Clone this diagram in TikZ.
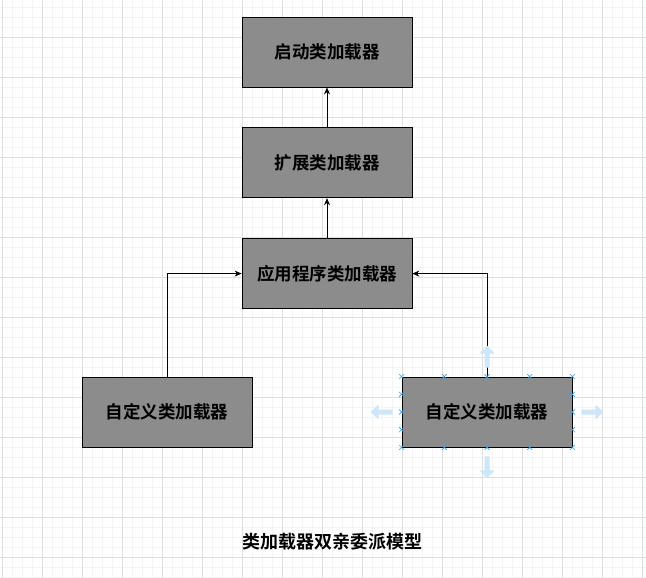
\documentclass[tikz,border=0pt]{standalone}
\usepackage{fontspec}
\newfontfamily\cjk{Noto Sans CJK SC}[BoldFont={Noto Sans CJK SC Bold}]
\usepackage{xcolor}
\usetikzlibrary{arrows.meta, positioning, calc}

\definecolor{boxgray}{RGB}{140,140,140}
\definecolor{gridminor}{RGB}{244,244,244}
\definecolor{gridmajor}{RGB}{222,222,222}
\definecolor{handleblue}{RGB}{60,160,235}
\definecolor{hintblue}{RGB}{205,230,250}

\begin{document}
\begin{tikzpicture}[
    x=1pt, y=-1pt,
    font=\cjk\bfseries,
    % 样式定义
    loader/.style={
        draw=black, fill=boxgray, line width=0.8pt, minimum width=170pt, minimum height=70pt,
        inner sep=0pt, font=\cjk\bfseries\fontsize{17.5pt}{21pt}\selectfont
    },
    delegate/.style={
        -{Stealth[length=7pt, width=6pt]}, line width=0.8pt, black
    },
    handle/.style={
        draw=handleblue, line width=0.6pt
    },
    hint/.style={
        draw=none, fill=hintblue
    }
]

    % --- 0. CANVAS & GRID ---
    \useasboundingbox (0,0) rectangle (646,578);
    \fill[white] (0,0) rectangle (646,578);
    \foreach \gx in {2.5,12.5,...,642.5} {
        \draw[gridminor, line width=0.8pt] (\gx,0) -- (\gx,578);
    }
    \foreach \gy in {7.5,17.5,...,577.5} {
        \draw[gridminor, line width=0.8pt] (0,\gy) -- (646,\gy);
    }
    \foreach \gx in {2.5,42.5,...,642.5} {
        \draw[gridmajor, line width=0.8pt] (\gx,0) -- (\gx,578);
    }
    \foreach \gy in {37.5,77.5,...,577.5} {
        \draw[gridmajor, line width=0.8pt] (0,\gy) -- (646,\gy);
    }

    % --- 1. LOADER CHAIN ---
    \node[loader] (bootstrap) at (327,52) {启动类加载器};
    \node[loader, below=40pt of bootstrap] (extension) {扩展类加载器};
    \node[loader, below=40pt of extension] (application) {应用程序类加载器};

    % --- 2. CUSTOM LOADERS ---
    \node[loader] (custom_left) at (167,412) {自定义类加载器};
    \node[loader] (custom_right) at (487,412) {自定义类加载器};

    % --- 3. DELEGATION ---
    \draw[delegate] (extension.north) -- (bootstrap.south);
    \draw[delegate] (application.north) -- (extension.south);
    \draw[delegate] (custom_left.north) |- (application.west);
    \draw[delegate] (custom_right.north) |- (application.east);

    % --- 4. SELECTION HANDLES ---
    \foreach \hx in {0,0.25,0.5,0.75,1} {
        \foreach \hy in {north,south} {
            \coordinate (h) at ($(custom_right.\hy\space west)!\hx!(custom_right.\hy\space east)$);
            \draw[handle] ($(h)+(-2.5,-2.5)$) -- ($(h)+(2.5,2.5)$) ($(h)+(-2.5,2.5)$) -- ($(h)+(2.5,-2.5)$);
        }
    }
    \foreach \hy in {0.25,0.5,0.75} {
        \foreach \hx in {west,east} {
            \coordinate (h) at ($(custom_right.north\space\hx)!\hy!(custom_right.south\space\hx)$);
            \draw[handle] ($(h)+(-2.5,-2.5)$) -- ($(h)+(2.5,2.5)$) ($(h)+(-2.5,2.5)$) -- ($(h)+(2.5,-2.5)$);
        }
    }
    % drag hints
    \fill[hint] ($(custom_right.north)+(-2.5,-9)$) -- ++(0,-14) -- ++(-5,0) -- ++(7.5,-8) -- ++(7.5,8) -- ++(-5,0) -- ++(0,14) -- cycle;
    \fill[hint] ($(custom_right.south)+(-2.5,9)$) -- ++(0,14) -- ++(-5,0) -- ++(7.5,8) -- ++(7.5,-8) -- ++(-5,0) -- ++(0,-14) -- cycle;
    \fill[hint] ($(custom_right.west)+(-9,-2.5)$) -- ++(-14,0) -- ++(0,-5) -- ++(-8,7.5) -- ++(8,7.5) -- ++(0,-5) -- ++(14,0) -- cycle;
    \fill[hint] ($(custom_right.east)+(9,-2.5)$) -- ++(14,0) -- ++(0,-5) -- ++(8,7.5) -- ++(-8,7.5) -- ++(0,-5) -- ++(-14,0) -- cycle;

    % --- 5. CAPTION ---
    \node[font=\cjk\bfseries\fontsize{18pt}{21pt}\selectfont] (caption) at (332,542) {类加载器双亲委派模型};

\end{tikzpicture}
\end{document}
